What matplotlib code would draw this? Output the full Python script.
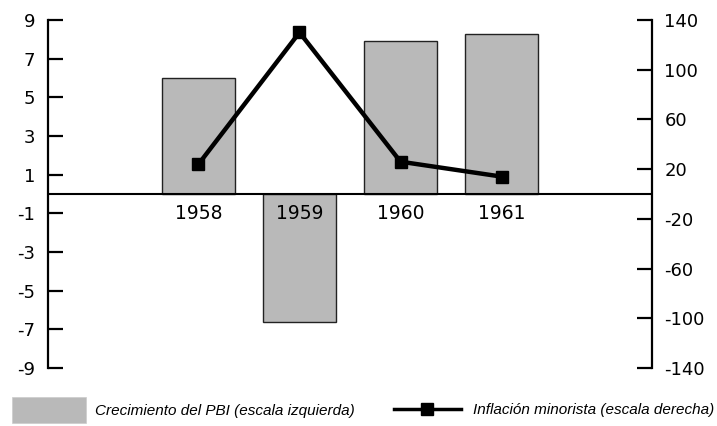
import numpy as np
import matplotlib
matplotlib.use('Agg')
import matplotlib.pyplot as plt
from matplotlib.patches import Patch
from matplotlib.lines import Line2D

# Dades llegides del gràfic
anys = ['1958', '1959', '1960', '1961']
creixement_pbi = [6.0, -6.6, 7.9, 8.3]      # escala esquerra (%)
inflacio = [24, 130, 26, 14]                 # escala dreta (%)
ticks_esq = [-9, -7, -5, -3, -1, 1, 3, 5, 7, 9]
ticks_dre = [-140, -100, -60, -20, 20, 60, 100, 140]

plt.rcParams['font.family'] = ['DejaVu Sans']

fig = plt.figure(figsize=(7.17, 4.26), dpi=100)
ax = fig.add_axes([48 / 717, 1 - 368 / 426, (652 - 48) / 717, 348 / 426])
ax2 = ax.twinx()

x = np.arange(len(anys))
gris = '#b9b9b9'
ax.bar(x, creixement_pbi, width=0.72, color=gris, edgecolor='#222222', linewidth=1.0, zorder=2)
ax.axhline(0, color='black', linewidth=1.5, zorder=3)

ax2.plot(x, inflacio, color='black', linewidth=3.2, marker='s', markersize=8, zorder=4)

ax.set_xlim(-1.49, 4.49)
ax.set_ylim(-9, 9)
ax2.set_ylim(-140, 140)

for a in (ax, ax2):
    for s in ('top', 'bottom'):
        a.spines[s].set_visible(False)
    a.spines['left'].set_linewidth(1.6)
    a.spines['right'].set_linewidth(1.6)
    a.set_xticks([])
ax.spines['right'].set_visible(False)
ax2.spines['left'].set_visible(False)

ax.set_yticks(ticks_esq)
ax.set_yticklabels([str(t) for t in ticks_esq])
ax.tick_params(axis='y', direction='in', length=11, width=1.6, pad=9, labelsize=13)
ax2.set_yticks(ticks_dre)
ax2.set_yticklabels([str(t) for t in ticks_dre])
ax2.tick_params(axis='y', direction='in', length=11, width=1.6, pad=9, labelsize=13)

# Etiquetes dels anys sota la línia del zero
for xi, any_ in zip(x, anys):
    ax.text(xi, -0.5, any_, ha='center', va='top', fontsize=13.5, zorder=5)

# Llegenda a la part inferior
font_lleg = {'family': 'Liberation Sans', 'style': 'italic', 'size': 11}
h1 = Patch(facecolor=gris, edgecolor='#cccccc', linewidth=0.5)
h2 = Line2D([0], [0], color='black', linewidth=2.5, marker='s', markersize=8)
fig.legend([h1], ['Crecimiento del PBI (escala izquierda)'], loc='center left',
           bbox_to_anchor=(-0.002, 1 - 410 / 426), frameon=False, handlelength=4.8,
           handleheight=2.3, handletextpad=0.6, prop=font_lleg)
fig.legend([h2], ['Inflación minorista (escala derecha)'], loc='center left',
           bbox_to_anchor=(380 / 717, 1 - 410 / 426), frameon=False, handlelength=4.4,
           handletextpad=0.8, prop=font_lleg)

fig.savefig('out.png', dpi=100)
